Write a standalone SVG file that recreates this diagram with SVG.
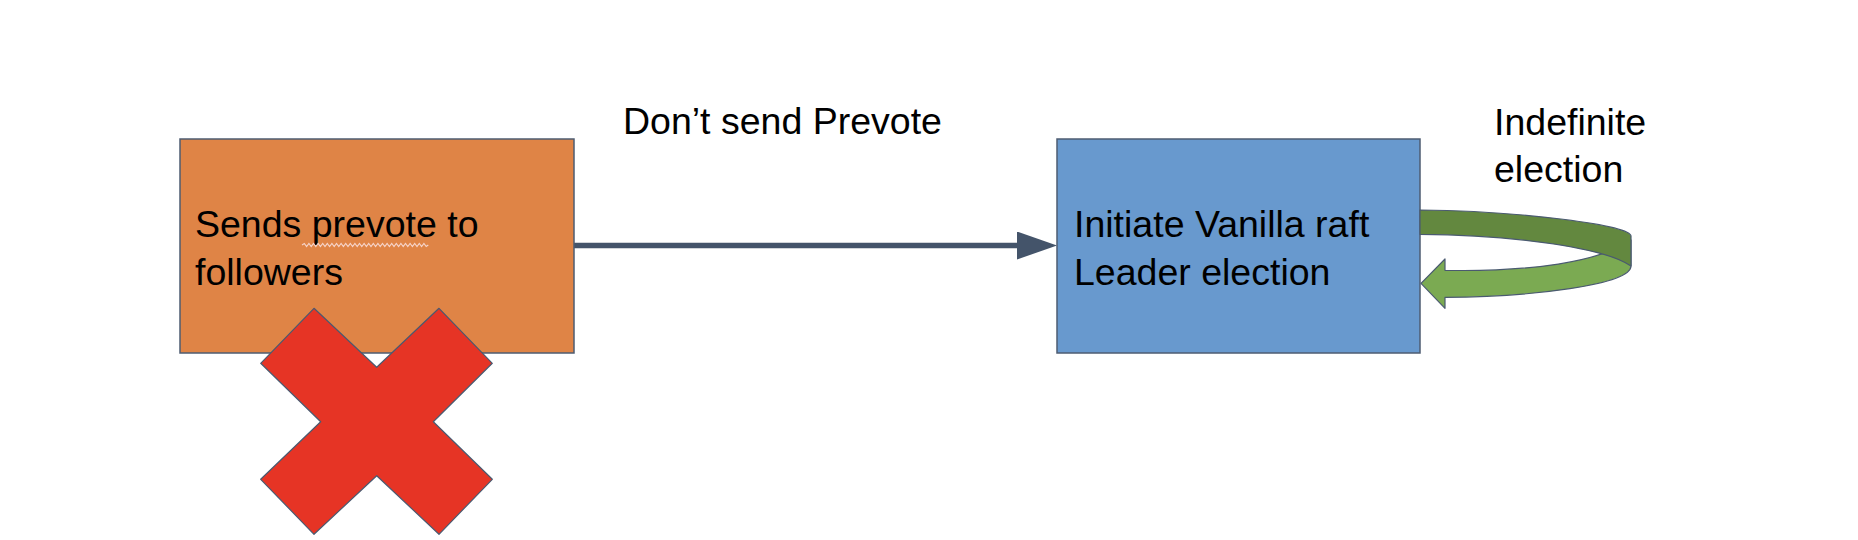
<svg xmlns="http://www.w3.org/2000/svg" width="1858" height="540" viewBox="0 0 1858 540">
  <style>
    .lbl { font-family: "Liberation Sans", Arial, sans-serif; font-size: 37.5px; fill: #000; }
    .box { stroke: #4E5C72; stroke-width: 1.5; }
    .outline { stroke: #4A5A70; stroke-width: 1.2; stroke-linejoin: round; }
  </style>
  <defs>
    <marker id="head" viewBox="0 0 40 28" markerWidth="40" markerHeight="28" refX="0" refY="14" markerUnits="userSpaceOnUse" orient="auto">
      <path d="M0,0 L40,14 L0,28 Z" fill="#44546A"/>
    </marker>
  </defs>
  <rect width="1858" height="540" fill="#FFFFFF"/>

  <g id="connectors">
    <line x1="574" y1="245.5" x2="1017" y2="245.5" stroke="#44546A" stroke-width="5.5" marker-end="url(#head)"/>
    <text class="lbl" x="623" y="134">Don’t send Prevote</text>
  </g>

  <g id="node-prevote">
    <rect class="box" x="180" y="139" width="394" height="214" fill="#DF8446"/>
    <text class="lbl" x="195" y="236.7">Sends prevote to</text>
    <text class="lbl" x="195" y="285">followers</text>
    <polyline fill="none" stroke="#F6D3C8" stroke-width="1.2" points="302,245 304.3,243.5 306.6,246.5 308.9,243.5 311.2,246.5 313.5,243.5 315.8,246.5 318.1,243.5 320.4,246.5 322.7,243.5 325,246.5 327.3,243.5 329.6,246.5 331.9,243.5 334.2,246.5 336.5,243.5 338.8,246.5 341.1,243.5 343.4,246.5 345.7,243.5 348,246.5 350.3,243.5 352.6,246.5 354.9,243.5 357.2,246.5 359.5,243.5 361.8,246.5 364.1,243.5 366.4,246.5 368.7,243.5 371,246.5 373.3,243.5 375.6,246.5 377.9,243.5 380.2,246.5 382.5,243.5 384.8,246.5 387.1,243.5 389.4,246.5 391.7,243.5 394,246.5 396.3,243.5 398.6,246.5 400.9,243.5 403.2,246.5 405.5,243.5 407.8,246.5 410.1,243.5 412.4,246.5 414.7,243.5 417,246.5 419.3,243.5 421.6,246.5 423.9,243.5 426.2,246.5 428.3,245"/>
  </g>

  <g id="node-cross">
    <polygon class="outline" fill="#E63425" points="314,308.3 376.7,367.3 439,308.3 492.3,363.3 433.3,421.7 492.3,479.3 439,534.3 376.7,475.7 314,534.3 260.7,479.3 320.7,421.7 260.7,363.3"/>
  </g>

  <g id="node-election">
    <rect class="box" x="1057" y="139" width="363" height="214" fill="#6899CE"/>
    <text class="lbl" x="1074" y="236.7">Initiate Vanilla raft</text>
    <text class="lbl" x="1074" y="285">Leader election</text>
  </g>

  <g id="node-loop">
    <path class="outline" fill="#7BAA52" d="M1421,283.3 L1445,259 L1445,270.3 C1530,272 1600,262 1631,240 L1631,266 C1631,285 1530,297 1445,297.3 L1445,308.3 Z"/>
    <path class="outline" fill="#63883F" d="M1420,210 C1520,211 1631,225 1631,236 L1631,266 C1600,245 1500,235 1420,234.3 Z"/>
    <text class="lbl" x="1494" y="135">Indefinite</text>
    <text class="lbl" x="1494" y="181.7">election</text>
  </g>
</svg>
